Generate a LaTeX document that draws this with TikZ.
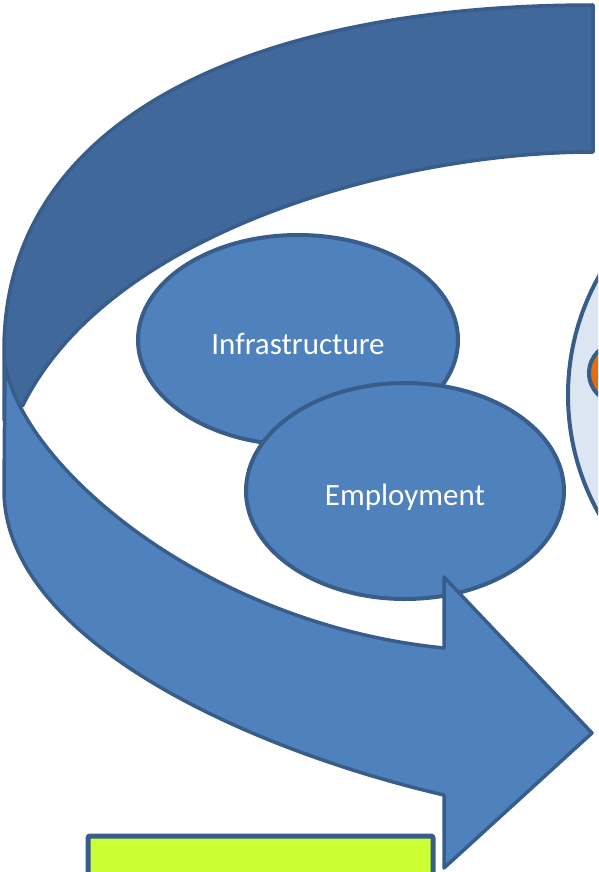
\documentclass[tikz,border=0pt]{standalone}
\usepackage{fontspec}
\setmainfont{Carlito}
\usetikzlibrary{shapes.geometric}
\definecolor{frontblue}{HTML}{4F81BD}
\definecolor{backblue}{HTML}{41689A}
\definecolor{edgeblue}{HTML}{385D8A}
\definecolor{paleblue}{HTML}{DCE6F2}
\definecolor{coreorange}{HTML}{E46C0A}
\definecolor{limegreen}{HTML}{CCFF33}
\begin{document}
\begin{tikzpicture}[x=1pt, y=-1pt, line join=round, band/.style={draw=edgeblue, line width=3.5pt}, topic/.style={ellipse, draw=edgeblue, fill=frontblue, line width=4pt, inner sep=0pt, text=white, text height=28pt, text depth=0pt, font=\fontsize{31}{31}\selectfont}]
\useasboundingbox (0,0) rectangle (598,872);
\clip (0,0) rectangle (598,872);
% back of the curved arrow
\draw[band, fill=backblue] (593,5) .. controls (250,5) and (4,120) .. (4,350) -- (4,420) -- (23,405) .. controls (110,230) and (400,152) .. (593,152) -- cycle;

\node (goal) at (811,395) [circle, draw=edgeblue, fill=paleblue, line width=4pt, inner sep=0pt, minimum size=486pt] {};
\node (core) at (619,373) [circle, draw=edgeblue, fill=coreorange, line width=4pt, inner sep=0pt, minimum size=60pt] {};

\node (infra) at (298,340) [topic, minimum width=320pt, minimum height=210pt] {Infrastructure};
\node (employ) at (405,491) [topic, minimum width=318pt, minimum height=216pt] {Employment};

% front of the curved arrow
\draw[band, fill=frontblue] (5,365) -- (4,490) .. controls (4,640) and (250,750) .. (444,795) -- (444,868) -- (592,733) -- (444,577) -- (444,648) .. controls (210,625) and (25,470) .. (5,365) -- cycle;

\node (outcome) at (85.5,833.5) [anchor=north west, draw=edgeblue, fill=limegreen, line width=5pt, rounded corners=2pt, minimum width=345pt, minimum height=80pt] {};
\end{tikzpicture}
\end{document}
